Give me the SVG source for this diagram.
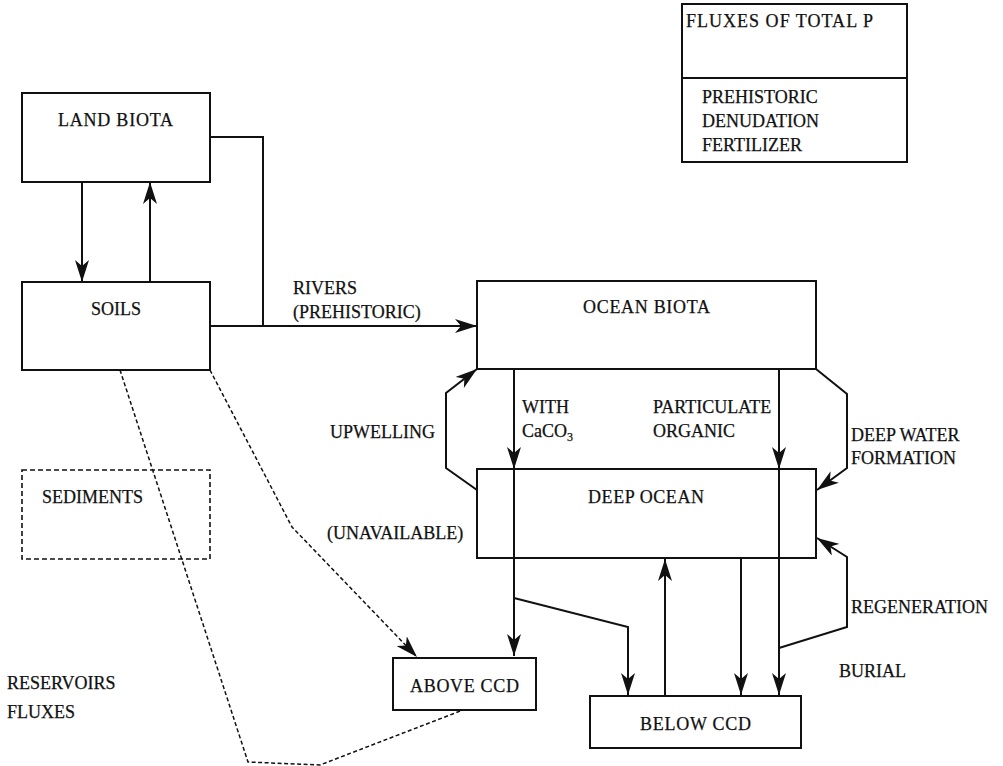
<svg xmlns="http://www.w3.org/2000/svg" width="1003" height="766" viewBox="0 0 1003 766">
<style>
.box{fill:#fff;stroke:#111;stroke-width:2}
.dbox{fill:none;stroke:#111;stroke-width:1.6;stroke-dasharray:5,3}
.ln{fill:none;stroke:#111;stroke-width:2}
.dl{fill:none;stroke:#111;stroke-width:1.5;stroke-dasharray:4,2.5}
text{font-family:"Liberation Serif","Times New Roman",serif;font-size:18px;fill:#111;stroke:#111;stroke-width:0.25}
</style>
<defs>
<marker id="ah" viewBox="0 0 22 14" refX="22" refY="7" markerWidth="22" markerHeight="14" markerUnits="userSpaceOnUse" orient="auto">
<path d="M0,0 L22,7 L0,14 L6,7 z" fill="#111"/>
</marker>
</defs>
<rect width="1003" height="766" fill="#fff"/>

<g id="legend">
<rect class="box" x="682" y="4" width="225" height="158"/>
<line class="ln" x1="682" y1="78" x2="907" y2="78"/>
<text x="686" y="27" textLength="187" lengthAdjust="spacing">FLUXES OF TOTAL P</text>
<text x="702" y="103">PREHISTORIC</text>
<text x="702" y="127">DENUDATION</text>
<text x="702" y="151">FERTILIZER</text>
</g>

<g id="connectors">
<line class="ln" x1="82" y1="182" x2="82" y2="282" marker-end="url(#ah)"/>
<line class="ln" x1="150" y1="282" x2="150" y2="182" marker-end="url(#ah)"/>
<polyline class="ln" points="210,137 263,137 263,326"/>
<line class="ln" x1="210" y1="326" x2="477" y2="326" marker-end="url(#ah)"/>
<polyline class="ln" points="477,490 446,468 446,393 477,369" marker-end="url(#ah)"/>
<line class="ln" x1="514" y1="369" x2="514" y2="469" marker-end="url(#ah)"/>
<line class="ln" x1="514" y1="469" x2="514" y2="656" marker-end="url(#ah)"/>
<line class="ln" x1="779" y1="369" x2="779" y2="469" marker-end="url(#ah)"/>
<line class="ln" x1="779" y1="469" x2="779" y2="695" marker-end="url(#ah)"/>
<polyline class="ln" points="514,598 628,627 628,695" marker-end="url(#ah)"/>
<line class="ln" x1="665" y1="696" x2="665" y2="559" marker-end="url(#ah)"/>
<line class="ln" x1="741" y1="558" x2="741" y2="695" marker-end="url(#ah)"/>
<polyline class="ln" points="779,648 847,627 847,557 817,538" marker-end="url(#ah)"/>
<polyline class="ln" points="816,369 847,394 847,468 817,490" marker-end="url(#ah)"/>
<polyline class="dl" points="210,370 292,527 417,657" marker-end="url(#ah)"/>
<polyline class="dl" points="120,370 248,762 320,765 463,710"/>
</g>

<g id="land-biota">
<rect class="box" x="22" y="93" width="188" height="89"/>
<text x="58" y="126" textLength="115" lengthAdjust="spacing">LAND BIOTA</text>
</g>

<g id="soils">
<rect class="box" x="22" y="282" width="188" height="88"/>
<text x="91" y="315">SOILS</text>
</g>

<g id="ocean-biota">
<rect class="box" x="477" y="281" width="339" height="88"/>
<text x="583" y="313" textLength="127" lengthAdjust="spacing">OCEAN BIOTA</text>
</g>

<g id="deep-ocean">
<rect class="box" x="477" y="469" width="339" height="89"/>
<line class="ln" x1="514" y1="469" x2="514" y2="558"/>
<line class="ln" x1="779" y1="469" x2="779" y2="558"/>
<text x="588" y="503" textLength="116" lengthAdjust="spacing">DEEP OCEAN</text>
</g>

<g id="sediments">
<rect class="dbox" x="22" y="470" width="188" height="89"/>
<text x="42" y="503">SEDIMENTS</text>
</g>

<g id="above-ccd">
<rect class="box" x="393" y="658" width="143" height="52"/>
<text x="410" y="692" textLength="109" lengthAdjust="spacing">ABOVE CCD</text>
</g>

<g id="below-ccd">
<rect class="box" x="590" y="696" width="211" height="52"/>
<text x="640" y="730" textLength="111" lengthAdjust="spacing">BELOW CCD</text>
</g>

<g id="labels">
<text x="293" y="294">RIVERS</text>
<text x="293" y="318">(PREHISTORIC)</text>
<text x="330" y="438">UPWELLING</text>
<text x="522" y="413">WITH</text>
<text x="522" y="437">CaCO<tspan font-size="12" dy="4">3</tspan></text>
<text x="653" y="413">PARTICULATE</text>
<text x="653" y="437">ORGANIC</text>
<text x="851" y="441">DEEP WATER</text>
<text x="851" y="464">FORMATION</text>
<text x="327" y="539">(UNAVAILABLE)</text>
<text x="851" y="613">REGENERATION</text>
<text x="839" y="677">BURIAL</text>
<text x="7" y="689">RESERVOIRS</text>
<text x="7" y="718">FLUXES</text>
</g>
</svg>
